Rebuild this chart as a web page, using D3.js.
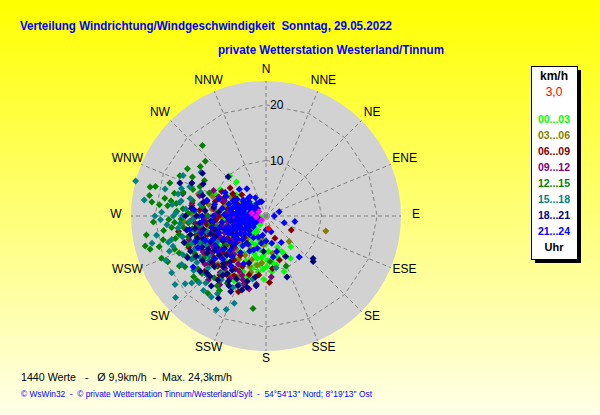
<!DOCTYPE html>
<html><head><meta charset="utf-8">
<script src="https://cdn.jsdelivr.net/npm/d3@7"></script>
<style>
html,body{margin:0;padding:0;overflow:hidden;background:#fff}
svg{display:block}
text{font-family:"Liberation Sans",Arial,sans-serif}
</style>
</head><body>
<svg id="chart" width="600" height="415"></svg>
<script>
// ---------- data ----------
const directions = ["N","NNE","NE","ENE","E","ESE","SE","SSE","S","SSW","SW","WSW","W","WNW","NW","NNW"];
const ringTicks = [10, 20];
const maxSpeed = 24.3;
const valueCount = 1440;
const avgSpeed = "9,9";
const maxSpeedText = "24,3";
const currentSpeed = "3,0";
const legendLabels = ["00...03","03...06","06...09","09...12","12...15","15...18","18...21","21...24"];
const titleText = "Verteilung Windrichtung/Windgeschwindigkeit  Sonntag, 29.05.2022";
const subtitleText = "private Wetterstation Westerland/Tinnum";
const footerText = "\u00A9 WsWin32  -  \u00A9 private Wetterstation Tinnum/Westerland/Sylt  -  54\u00B054'13'' Nord; 8\u00B019'13'' Ost";

// [direction in degrees, speed in km/h]
const h00_03 = [[319,8.1],[298,8.1],[310,3.4],[280,3.3],[260,1.1],[214,3.0],[187,4.3],[155,7.3],[165,7.6],[179,9.1],[183,9.6],[182,11.4],[197,11.5],[194,7.5],[207,10.2],[176,6.4],[310,3.1],[304,1.9],[246,3.1],[225,4.8],[225,6.6],[227,8.1],[300,9.5],[230,8.1],[244,9.2],[186,7.6],[141,7.1],[214,1.9],[187,8.9],[156,7.0],[293,9.8],[318,9.7],[265,13.2],[174,10.1],[192,7.8],[240,5],[250,6.5],[235,9],[260,8],[255,11],[270,4],[285,6],[245,12],[230,11],[220,7],[265,7.5],[275,9],
  [200,5.5],[205,3.8],[195,9.8],[190,6.2],[210,7.8],[218,5.2],[235,3.2],[255,4.2],[270,5.8],[285,3.8],[295,5.2],[200,12.2],[215,9.5],[240,7.2],[262,3.6],[180,5.0],[172,8.4],[160,6.0],[150,8.8],[222,10.8],[248,10.2],[233,12.5],[278,7.3],[290,7.8],[305,6.5],
  [198,7],[204,8.8],[208,5.5],[212,11],[216,8.3],[222,6],[228,9.5],[232,7.5],[236,5],[238,10],[196,4.5],[202,10.8],[188,10.2],[184,7.2],[178,8],[192,9],[210,3.5],[220,3.8],[242,11],[250,8],[256,9.8],[218,12.5],[206,13],[168,9],[162,10.5]];
const h03_06 = [[104,11.1],[138,6.2],[185,5.2],[185,8.5],[247,11.6],[251,10.3],[288,12.8],[281,10.5],[198,8.3],[190,9.0],[190,4.4],[303,2.0],[235,7],[245,4],[255,6],[262,9],[270,11],[228,10],[240,13],[250,3],[275,5.5],[265,2.5],[232,5.5],[220,9],[258,12.5],[215,11],[170,6.8],[205,12],
  [230,8.5],[242,6.2],[252,8.8],[260,10.5],[268,8],[277,9.8],[283,7.5],[225,12.2],[238,11],[246,13.8],[212,9.2],[205,6.5],[195,10.5],[220,5.5],[258,4.8],[272,13.5],[290,10.2],[298,7.2],[234,3.5],[266,14.8],
  [222,8],[236,12.5],[248,9.5],[256,11.5],[212,12.5],[226,6.5],[198,9.5],[244,7.2],[264,6.8],[208,8]];
const h06_09 = [[119,5.2],[163,8.3],[173,9.5],[308,8.2],[299,9.1],[301,4.2],[300,6.4],[311,5.8],[158,4.3],[177,12.0],[187,10.7],[228,14.9],[214,12.7],[284,11],[288,8.1],[302,4.8],[240,8],[250,10],[260,5],[232,12],[245,6],[255,13],[270,8.5],[222,9.5],[265,11],[238,4.5],[275,12],[218,13.5],[248,15],[280,7],[236,10.5],[292,5.5],[210,11],
  [228,7],[235,9],[243,10.8],[252,7.5],[258,9.5],[263,12.5],[270,10.5],[278,13.5],[286,9.5],[294,8.2],[220,11.2],[213,8.5],[205,10],[198,12.8],[230,13.5],[240,14.8],[247,12],[255,5.5],[268,6.2],[282,5],[304,7.2],[225,5.5],[200,14.5],[260,16],
  [216,9.8],[224,12.5],[234,7.8],[246,9.2],[256,8.2],[262,10.8],[252,11.2],[238,13],[208,12.2],[196,11],[230,10.2],[266,9]];
const h09_12 = [[268,13.1],[258,12.4],[219,13.1],[188,12.4],[200,12.2],[193,13.5],[214,14.9],[272,2.3],[235,7.5],[245,9],[252,5],[262,7],[228,11],[240,13],[255,10],[265,4.5],[278,9.5],[225,8],[248,3.5],[283,11.5],[232,14],[243,11.5],[260,12],[270,6],[210,10],[290,8],[237,5.5],[253,14.5],[296,10.5],[175,11],
  [226,9.5],[233,10],[240,11],[248,8],[255,7.5],[262,10],[268,11],[275,7],[280,13.5],[287,12.5],[292,9.2],[218,12],[210,13],[202,11.5],[230,6.5],[245,14],[252,12.5],[265,14],[272,9],[258,5.8],[238,8.8],[222,15.5],[285,15.5],[243,5],
  [214,11],[220,9],[236,12],[244,10],[250,9.2],[228,12.8],[206,11],[258,8.2],[264,12.8],[234,9],[198,13],[242,13]];
const h12_15 = [[318,17.1],[312,14.7],[301,16.5],[307,14.8],[300,12.8],[295,17.1],[289,18.3],[285,20.6],[280,21.3],[277,20.7],[276,19.3],[279,17.3],[261,21.8],[248,20.3],[227,17],[188,16.8],[217,17.4],[158,9.7],[267,20.3],[256,22.4],[284,21.5],[273,16.1],[262,18.6],[263,17.1],[254,20],[254,21.7],[247,17],[238,17.2],[215,15.3],[210,14],[175,8.2],[265,14],[270,12],[250,15],[258,16],[242,14.5],[275,15],[282,13.5],[232,15.5],[245,11],[262,10],[290,14],[253,13],[268,17.5],[240,18],[225,13],[280,18.5],[235,9],[292,11],
  [255,14.5],[248,12.5],[260,13.5],[272,14],[266,16.5],[278,16.3],[286,15.5],[243,16],[236,13.5],[228,15.5],[220,14.5],[212,15.8],[262,12.2],[270,10.5],[278,11.5],[294,13],[298,15],[250,17.5],[257,19],[245,19.5],
  [262,15],[268,15.3],[274,13],[256,16.8],[250,13.8],[240,15.2],[230,17],[284,17],[276,17.8]];
const h15_18 = [[285,24.3],[304,14.1],[285,18.8],[277.5,22.1],[291,14.7],[256.5,21.1],[246,19.7],[228,21.9],[208,19.1],[203,18.3],[200,16.7],[214,17.6],[296,16.6],[284,16.3],[279,15.7],[272,18.8],[265,17.9],[270,16.7],[256,17.5],[252,17.6],[239,19.8],[233,16.3],[228,18],[201,13.3],[169,9.5],[192,11.6],[260,14.5],[248,13],[240,15.5],[268,13],[275,14.5],[235,12.5],[255,11],[262,16],[245,16.5],[225,15],[280,12],[250,18.5],[230,19],[215,14],[288,16],[242,10],[258,9],[220,17.5],[270,20],
  [258,13],[265,15.5],[252,15.5],[245,14],[238,14],[270,15],[277,17],[283,14],[248,11.5],[232,13],[225,17],[218,13],[212,16.5],[205,14.2],[262,11.8],[274,12.8],[290,12.5],[255,18.2],[240,17.5],[233,20.5],[260,20],[268,19],
  [250,14.2],[256,15.5],[244,12],[236,15],[228,14],[222,16.2],[266,13.8],[272,16.2],[280,15.5]];
const h18_21 = [[132,11.4],[134,11.8],[161,11.6],[154,8.1],[188,12.7],[195,13.3],[210,17.1],[291,16.6],[294,14.6],[304,13.8],[297,12.7],[316,9.8],[223,14.8],[217,14.4],[184,6.4],[190,11.2],[214,12.5],[226,14.8],[230,11],[240,9],[250,12],[235,14],[245,7],[255,9.5],[220,12],[260,13],[228,8],[265,10],[270,14.5],[242,16],[210,13.5],[275,11],[252,15.5],[238,12.5],[218,16],[280,9.5],[205,15],[248,5],
  [225,10],[232,9.5],[238,10.5],[245,11],[252,10.5],[258,11.5],[264,12],[270,12.5],[276,13.5],[282,11.5],[288,12],[218,10.5],[212,11.5],[205,12.5],[198,14],[230,15.5],[245,15],[256,14],[236,6.5],[250,7],[262,6.5],[275,8.5],[215,6],[200,9],[240,12],[226,13],
  [222,11.5],[230,12.8],[236,11.2],[244,12.8],[252,13],[260,14.5],[208,14.2],[216,13.2],[202,13.5],[196,12.2],[240,14.5],[248,9.8]];
const h21_24 = [[72,2.5],[101,5.3],[141,9.5],[162,3.0],[324,2.8],[168,5],[337,2.8],[315,6.8],[343,2.7],[200,4],[163,6.7],[280,3],[290,4],[300,3.5],[270,2],[260,3],[250,4],[240,3.5],[230,5],[265,5],[275,6],[285,5.5],[255,6],[245,7.5],[235,8],[295,6.5],[305,5],[310,2],[225,6],[262,8],[250,9],[240,10.5],[270,9.5],[280,8],[290,9],[230,12],[220,9.5],[255,12],[265,11.5],[245,13.5],[215,8],[300,8.5],[275,13],[205,7],[195,6],[210,4.5],[285,11],[260,14],[235,16],[278,4],[268,7],[258,1.5],[248,2],[288,2.5],[310,4],[320,4.5],[325,6],[150,5.5],[110,3.5],[90,1.5],[180,2.5],[190,3.5],[205,9.5],[170,7.5],
  [235,5.5],[242,5],[248,6.5],[256,4.5],[262,4],[268,3.5],[276,4.5],[282,4.2],[290,5],[298,4.5],[305,3.2],[228,7.5],[238,6.2],[252,7.8],[264,6.5],[272,7.5],[280,6.5],[288,7],[296,8],[315,4.5],[222,4.5],[232,9.8],[246,10.5],[258,10],[270,11.5],[283,9.5],[225,11],[250,13.5],[218,6.8],[240,1.8],[285,1.8],[305,2.5],[330,3.8],[300,6],[275,2.8],[260,2.2],[245,2.8],[230,3],[212,6],[200,6.5],[190,5],[180,4.5],[215,11],
  [238,4.2],[244,3.2],[252,5.2],[258,3.2],[266,4.2],[272,5.2],[278,5.2],[286,4.5],[294,3.2],[302,4.2],[246,5.8],[254,7],[262,5.5],[270,6.5],[284,6.2],[292,6],[240,6.8],[232,6.8],[228,4],[236,2.5],[250,2.8],[266,2.8],[280,2],[296,2.2],[226,8.8],[234,10.8],[242,8.6],[248,11.8],[256,8.6],[264,9.5]];
const latest = [[281,2.6],[227,1.1],[265,1.8],[300,1.5]];
const current = [[169,2.3]];

// ---------- styles ----------
const groupColors = ["#00ff00","#808000","#800000","#800080","#008000","#008080","#000080","#0000ff"];
const groups = [h00_03,h03_06,h06_09,h09_12,h12_15,h15_18,h18_21,h21_24];

const W = 600, H = 415, cx = 266, cy = 216, R = 135;
const svg = d3.select("#chart");

// background
const defs = svg.append("defs");
const grad = defs.append("linearGradient").attr("id","bg").attr("x1",0).attr("y1",0).attr("x2",0).attr("y2",1);
grad.append("stop").attr("offset","0%").attr("stop-color","#ffff00");
grad.append("stop").attr("offset","45%").attr("stop-color","#ffff68");
grad.append("stop").attr("offset","100%").attr("stop-color","#ffffe8");
svg.append("rect").attr("width",W).attr("height",H).attr("fill","url(#bg)");

// scales
const rScale = d3.scaleLinear().domain([0, maxSpeed]).range([0, R]);
const aScale = d3.scaleLinear().domain([0, 360]).range([0, 2*Math.PI]);
const px = d => cx + rScale(d[1]) * Math.sin(aScale(d[0]));
const py = d => cy - rScale(d[1]) * Math.cos(aScale(d[0]));

const g = svg.append("g");
g.append("circle").attr("cx",cx).attr("cy",cy).attr("r",R).attr("fill","#d2d2d2");

// rings (16-gon)
const dirAngles = directions.map((d,i)=> i*360/directions.length);
const ringLine = d3.lineRadial().curve(d3.curveLinearClosed);
g.selectAll("path.ring").data(ringTicks).join("path")
  .attr("class","ring")
  .attr("transform",`translate(${cx},${cy})`)
  .attr("d", v => ringLine(dirAngles.map(a => [aScale(a), rScale(v)])))
  .attr("fill","none").attr("stroke","#808080").attr("stroke-width",1).attr("stroke-dasharray","4,3");

// spokes
g.selectAll("line.spoke").data(dirAngles).join("line")
  .attr("class","spoke")
  .attr("x1",cx).attr("y1",cy)
  .attr("x2",a=>cx + R*Math.sin(aScale(a))).attr("y2",a=>cy - R*Math.cos(aScale(a)))
  .attr("stroke","#808080").attr("stroke-width",1).attr("stroke-dasharray","4,3");

// ring labels
g.selectAll("text.tick").data(ringTicks).join("text")
  .attr("x",cx+4).attr("y",v=>cy - rScale(v)).attr("dy","0.35em")
  .attr("font-size",12).attr("fill","#000").text(d=>d);

// direction labels
g.selectAll("text.dir").data(directions).join("text")
  .attr("x",(d,i)=>cx + 150*Math.sin(aScale(dirAngles[i])))
  .attr("y",(d,i)=>213.5 - 144.5*Math.cos(aScale(dirAngles[i])))
  .attr("dy","0.35em").attr("text-anchor","middle")
  .attr("font-size",12).attr("fill","#000").text(d=>d);

// points
const diamond = "M0,-3.5L3.5,0L0,3.5L-3.5,0Z";
groups.forEach((arr,i)=>{
  g.append("g").selectAll("path").data(arr).join("path")
    .attr("d",diamond).attr("transform",d=>`translate(${px(d)},${py(d)})`)
    .attr("fill",groupColors[i]);
});
g.append("g").selectAll("path").data(latest).join("path")
  .attr("d",diamond).attr("transform",d=>`translate(${px(d)},${py(d)})`).attr("fill","#ff00ff");
g.append("g").selectAll("path").data(current).join("path")
  .attr("d",diamond).attr("transform",d=>`translate(${px(d)},${py(d)})`).attr("fill","#ff0000");

// titles
svg.append("text").attr("x",20).attr("y",30).attr("font-size",13).attr("font-weight","bold")
  .attr("fill","#0000ff").style("white-space","pre")
  .attr("textLength",372).attr("lengthAdjust","spacingAndGlyphs").text(titleText);
svg.append("text").attr("x",218).attr("y",54).attr("font-size",13).attr("font-weight","bold")
  .attr("fill","#0000ff").attr("textLength",226).attr("lengthAdjust","spacingAndGlyphs").text(subtitleText);

// legend
const lg = svg.append("g");
lg.append("rect").attr("x",535).attr("y",70).attr("width",46).attr("height",193).attr("fill","#000");
lg.append("rect").attr("x",531.5).attr("y",66.5).attr("width",46).attr("height",193).attr("fill","#fff").attr("stroke","#000");
lg.append("text").attr("x",554).attr("y",80).attr("text-anchor","middle").attr("font-size",12).attr("font-weight","bold").text("km/h");
lg.append("text").attr("x",554).attr("y",96).attr("text-anchor","middle").attr("font-size",12).attr("fill","#ff0000").text(currentSpeed);
lg.selectAll("text.lab").data(legendLabels).join("text")
  .attr("x",554).attr("y",(d,i)=>123 + i*16.05).attr("text-anchor","middle")
  .attr("font-size",10.5).attr("font-weight","bold").attr("fill",(d,i)=>groupColors[i]).text(d=>d);
lg.append("text").attr("x",554).attr("y",251).attr("text-anchor","middle").attr("font-size",11).attr("font-weight","bold").text("Uhr");

// footer
svg.append("text").attr("x",21).attr("y",381).attr("font-size",11).attr("fill","#000").style("white-space","pre")
  .attr("textLength",211).attr("lengthAdjust","spacingAndGlyphs")
  .text(`${valueCount} Werte   -   \u00D8 ${avgSpeed}km/h  -  Max. ${maxSpeedText}km/h`);
svg.append("text").attr("x",21).attr("y",397).attr("font-size",9).attr("fill","#0000ff").style("white-space","pre")
  .attr("textLength",351).attr("lengthAdjust","spacingAndGlyphs")
  .text(footerText);
</script>
</body></html>
